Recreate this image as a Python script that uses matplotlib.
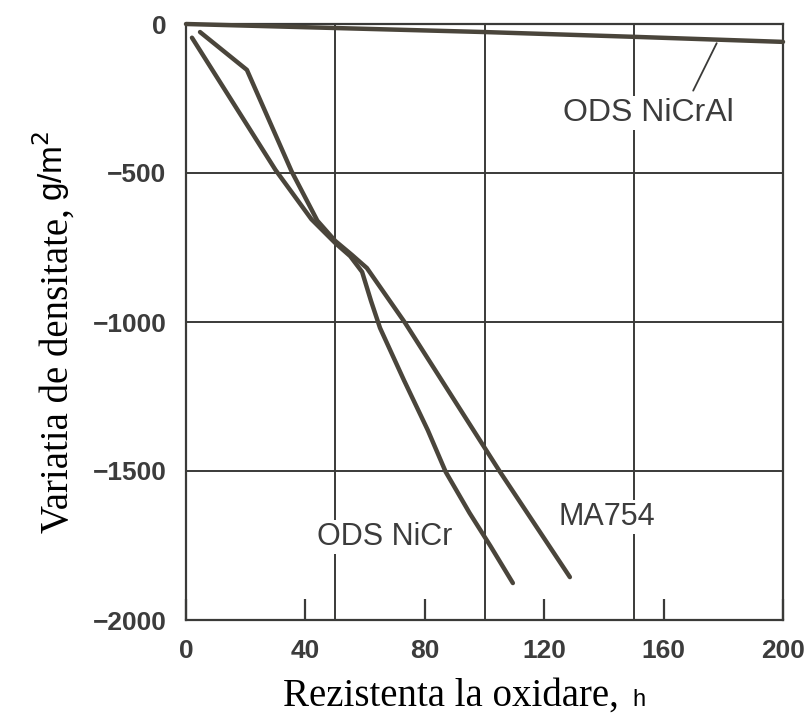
import matplotlib
matplotlib.use("Agg")
import matplotlib.pyplot as plt
from matplotlib.ticker import FixedLocator

# ---- data ----
nicral_h = [0, 100, 150, 200]
nicral_v = [0, -27, -43, -60]

ma754_h = [4.7, 20.4, 35.4, 44, 50, 55.6, 60.6, 73.4, 105.2, 128.6]
ma754_v = [-27, -154, -495, -660, -728, -775, -819, -1003, -1503, -1856]

nicr_h = [2, 30, 42, 50, 55, 59, 62, 65, 73, 81, 87, 95, 102, 109.5]
nicr_v = [-46, -490, -655, -735, -779, -832, -930, -1020, -1195, -1363, -1503, -1641, -1752, -1876]

x_ticks = [0, 40, 80, 120, 160, 200]
x_grid = [50, 100, 150]
y_ticks = [0, -500, -1000, -1500, -2000]

label_nicral = "ODS NiCrAl"
label_nicr = "ODS NiCr"
label_ma754 = "MA754"

W, H = 809, 719
LINE_C = "#4a453b"
GRID_C = "#3a3a38"
TEXT_C = "#3c3c3c"

fig = plt.figure(figsize=(W / 100, H / 100), dpi=100)
fig.patch.set_facecolor("white")

def fx(px):
    return px / W

def fy(py):
    return 1 - py / H

ax = fig.add_axes([fx(186), fy(620), fx(783) - fx(186), fy(24) - fy(620)])
ax.set_xlim(0, 200)
ax.set_ylim(-2000, 0)

ax.xaxis.set_major_locator(FixedLocator(x_ticks))
ax.xaxis.set_minor_locator(FixedLocator(x_grid))
ax.yaxis.set_major_locator(FixedLocator(y_ticks))
ax.grid(False)
for g in x_grid:
    ax.axvline(g, color=GRID_C, lw=1.4, zorder=1)
for g in y_ticks[1:-1]:
    ax.axhline(g, color=GRID_C, lw=1.4, zorder=1)

for s in ax.spines.values():
    s.set_color(GRID_C)
    s.set_linewidth(1.6)

ax.tick_params(axis="x", which="major", direction="in", length=15, width=1.6,
               color=GRID_C, pad=14, labelsize=19, labelcolor=TEXT_C)
ax.tick_params(axis="x", which="minor", length=0)
ax.tick_params(axis="y", which="major", length=0, pad=14, labelsize=19,
               labelcolor=TEXT_C)
ax.set_xticklabels([str(v) for v in x_ticks], fontfamily="Liberation Sans",
                   fontweight="bold")
ax.set_yticklabels(["0" if v == 0 else "\u2212" + str(-v) for v in y_ticks],
                   fontfamily="Liberation Sans", fontweight="bold")

# data lines
kw = dict(color=LINE_C, lw=3.2, solid_capstyle="round", solid_joinstyle="round",
          zorder=3, clip_on=False)
ax.plot(nicral_h, nicral_v, **kw)
ax.plot(ma754_h, ma754_v, **kw)
ax.plot(nicr_h, nicr_v, **kw)

# labels
bbox = dict(facecolor="white", edgecolor="none", pad=1.5)
ax.text(154.8, -299, label_nicral, fontsize=23, color=TEXT_C,
        fontfamily="Liberation Sans", ha="center", va="center", bbox=bbox, zorder=4)
ax.annotate("", xy=(178.2, -56), xytext=(169.5, -232),
            arrowprops=dict(arrowstyle="-", color=GRID_C, lw=1.3), zorder=4)
ax.text(66.7, -1722, label_nicr, fontsize=22, color=TEXT_C,
        fontfamily="Liberation Sans", ha="center", va="center", bbox=bbox, zorder=4)
ax.text(141, -1655, label_ma754, fontsize=22, color=TEXT_C,
        fontfamily="Liberation Sans", ha="center", va="center", bbox=bbox, zorder=4)

# axis titles (mixed serif + sans, as in the scan)
fig.text(fx(283), fy(706), "Rezistenta la oxidare,", fontsize=28,
         fontfamily="Liberation Serif", color="black", ha="left", va="baseline")
fig.text(fx(632), fy(706), "h", fontsize=17, fontfamily="Liberation Sans",
         color="black", ha="left", va="baseline")

fig.text(fx(68), fy(533), "Variatia de densitate,", fontsize=28,
         fontfamily="Liberation Serif", color="black", rotation=90,
         rotation_mode="anchor", ha="left", va="baseline")
fig.text(fx(63), fy(201), "g/m$^2$", fontsize=24, fontfamily="Liberation Sans",
         color="black", rotation=90, rotation_mode="anchor", ha="left",
         va="baseline")

fig.savefig("out.png", dpi=100, facecolor="white")
